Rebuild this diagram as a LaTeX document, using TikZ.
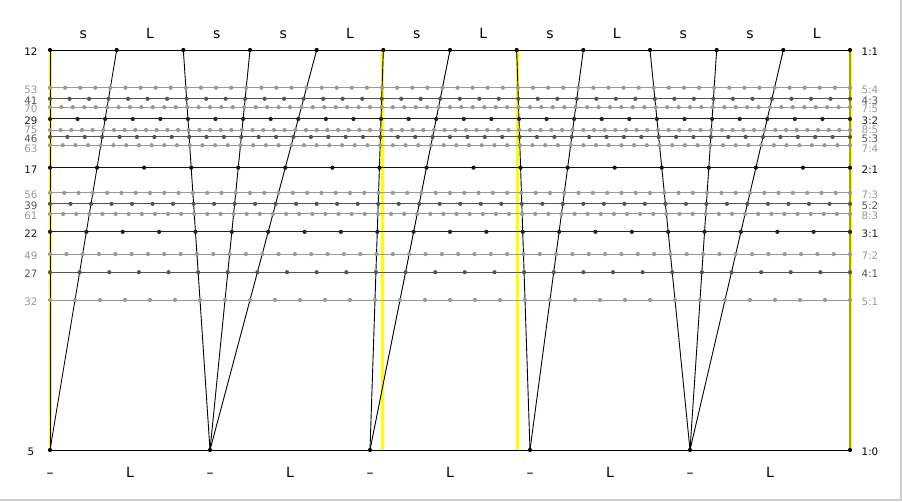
\documentclass[tikz,border=0pt]{standalone}
\usepackage{fontspec}
\setmainfont{DejaVu Sans}
\definecolor{tzero}{HTML}{000000}
\definecolor{tone}{HTML}{111111}
\definecolor{ttwo}{HTML}{222222}
\definecolor{tthree}{HTML}{555555}
\definecolor{tfour}{HTML}{999999}
\definecolor{frameg}{HTML}{CCCCCC}
\definecolor{jiyellow}{HTML}{FFFF00}
\begin{document}
\begin{tikzpicture}[x=1pt,y=-1pt,
  hline/.style={line width=1pt},
  diag/.style={line width=0.9pt, black},
  jiline/.style={line width=3pt, jiyellow},
  lab/.style={font=\fontsize{10.3}{12}\selectfont, anchor=base, inner sep=0pt},
  steplab/.style={font=\fontsize{14}{16}\selectfont, anchor=base, inner sep=0pt}]
\useasboundingbox (0,0) rectangle (902,501);
\fill[white] (0,0) rectangle (902,501);
\fill[frameg] (899.5,0) rectangle (902,501);
\fill[frameg] (0,499) rectangle (902,501);

% N / s-steps / colour / ratio / label nudge
\def\lineslist{12/1/tzero/1:1/0, 53/4/tfour/5:4/0, 41/3/tthree/4:3/0, 70/5/tfour/7:5/0, 29/2/ttwo/3:2/0, 75/5/tfour/8:5/-1.8, 46/3/tthree/5:3/0.4, 63/4/tfour/7:4/1.2, 17/1/tone/2:1/0, 56/3/tfour/7:3/0, 39/2/tthree/5:2/0, 61/3/tfour/8:3/0, 22/1/ttwo/3:1/0, 49/2/tfour/7:2/0, 27/1/tthree/4:1/0, 32/1/tfour/5:1/0, 5/0/tzero/1:0/0}

% just-intonation reference lines (1/1, 4/3, 3/2, 2/1)
\foreach \r [count=\q] in {0, 0.4150375, 0.5849625, 1} {
  \coordinate (JT\q) at ({50+800*\r},50);
  \coordinate (JB\q) at ({50+800*\r},450);
  \draw[jiline] (JB\q) -- (JT\q);
}

% horizontal lines and labels
\foreach \N/\b/\c/\rl/\nd in \lineslist {
  \pgfmathsetmacro\yy{450-400*(12*\b/\N)}
  \coordinate (L\N) at (50,\yy);
  \coordinate (R\N) at (850,\yy);
  \draw[hline, \c] (L\N) -- (R\N);
  \node[lab, text=\c] (nl\N) at (31,\yy+5.6+\nd) {\N};
  \node[lab, text=\c] (nr\N) at (870,\yy+5.6+\nd) {\rl};
}

% top (12) and bottom (5) points
\foreach \k in {0,...,12} \coordinate (T\k) at ({50+800/12*\k},50);
\foreach \j in {0,...,5} \coordinate (B\j) at ({50+160*\j},450);

% diagonals
\foreach \k/\j in {0/0,1/0,2/1,3/1,4/1,5/2,6/2,7/3,8/3,9/4,10/4,11/4,12/5}
  \draw[diag] (B\j) -- (T\k);

% dots
\foreach \N/\b/\c/\rl/\nd in \lineslist {
  \pgfmathsetmacro\yy{450-400*(12*\b/\N)}
  \pgfmathsetmacro\st{800/\N}
  \foreach \i in {0,...,\N}
    \fill[\c] ({50+\st*\i},\yy) circle[radius=2.1pt];
}

% step labels
\foreach \lbl [count=\k from 0] in {s,L,s,s,L,s,L,s,L,s,s,L}
  \node[steplab] (st\k) at ({50+800/12*(\k+0.5)},38) {\lbl};
\foreach \j in {0,...,4} {
  \node[steplab] (bz\j) at ({50+160*\j},477) {–};
  \node[steplab] (bl\j) at ({130+160*\j},477) {L};
}
\end{tikzpicture}
\end{document}
